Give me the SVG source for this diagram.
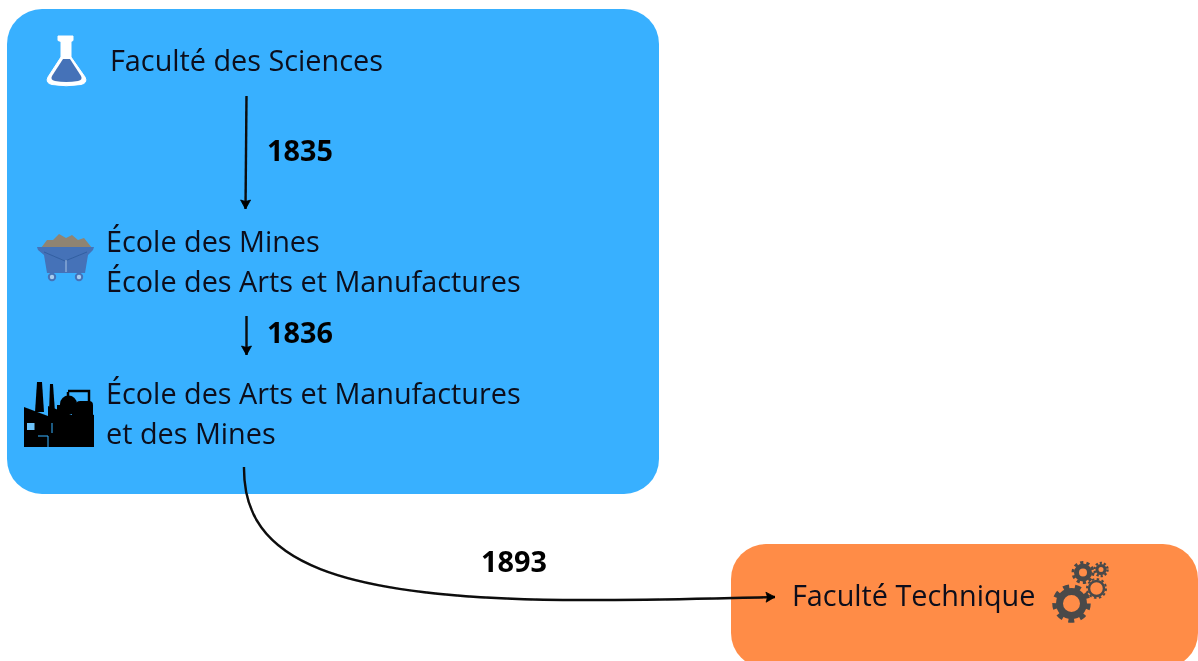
<svg xmlns="http://www.w3.org/2000/svg" width="1198" height="661" viewBox="0 0 1198 661">
<style>
text{font-family:"Open Sans","Noto Sans","Liberation Sans",sans-serif;font-size:28.8px;fill:#0a0f1a}
.y{font-weight:700;font-size:28.8px;fill:#050505}
.c{fill:none;stroke:#0a0a0a;stroke-width:2.4}
.g{fill:none;stroke:#4a4a4a}
.f{fill:#050505}
.w{fill:none;stroke:#38b0ff;stroke-width:1}
</style>
<defs>
<marker id="a" markerUnits="userSpaceOnUse" markerWidth="14" markerHeight="14" refX="10" refY="6" orient="auto"><path d="M1 1L10 6L1 11L2.500 6Z" fill="#000" stroke="#000" stroke-width="0.800" stroke-linejoin="round"/></marker>
<filter id="b" x="-5%" y="-5%" width="110%" height="110%"><feGaussianBlur stdDeviation="0.5"/></filter>
</defs>
<rect width="1198" height="661" fill="#fff"/>
<g filter="url(#b)">
<g id="box-paris"><rect x="7" y="9" width="652" height="485" rx="35" fill="#38b0ff"/></g>
<g id="box-technique"><rect x="731" y="544" width="467" height="124" rx="35" fill="#ff8c47"/></g>
<g id="connectors">
<path class="c" d="M246.500 96L245.500 209" marker-end="url(#a)"/>
<path class="c" d="M246.500 316L246.500 355" marker-end="url(#a)"/>
<path class="c" d="M244 467C243 560 330 602 600 600C680 600 725 598 775 597" marker-end="url(#a)"/>
</g>
<g id="node-sciences">
<path d="M58 36H73V40.500L71 41.500V57L85 77Q88 83 81 84.500Q66 87 52 84.500Q45 83 48 77L61 57V41.500L58 40.500Z" fill="#fff" stroke="#fff" stroke-width="1"/>
<path d="M63 59H70L81 76Q83 80 78 81Q66 83 55 81Q50 80 52 76Z" fill="#4472b8"/>
<text x="110" y="71">Faculté des Sciences</text>
</g>
<text class="y" x="267" y="161">1835</text>
<g id="node-mines">
<path d="M41 248L47 240L53 240L59 234L66 238L72 235L78 240L84 238L92 248Z" fill="#8f8473"/>
<path d="M37 247H94L93 250L88 255L85 273H47L44 255L38 250Z" fill="#4472b8"/>
<path d="M44 252L65 261L87 252" fill="none" stroke="#2f5a9c" stroke-width="0.800"/>
<path d="M66 260V272" fill="none" stroke="#a9c4e6" stroke-width="1"/>
<circle cx="52" cy="277" r="3.200" fill="#a9cdee" stroke="#4472b8" stroke-width="2"/>
<circle cx="79" cy="277" r="3.200" fill="#a9cdee" stroke="#4472b8" stroke-width="2"/>
<text x="106" y="252">École des Mines</text>
<text x="106" y="292">École des Arts et Manufactures</text>
</g>
<text class="y" x="267" y="343">1836</text>
<g id="node-centrale">
<path class="f" d="M37 382H42L44 412H35Z"/>
<path class="f" d="M50 384H53L55 412H49Z"/>
<path d="M68 391H89V404" fill="none" stroke="#050505" stroke-width="2.500"/>
<path d="M68 392V404H90" fill="none" stroke="#050505" stroke-width="2.500"/>
<path class="f" d="M60 414V404A8.500 8.500 0 0 1 77 404V414Z"/>
<rect class="f" x="76" y="401" width="17" height="18" rx="4"/>
<rect class="f" x="57" y="405" width="5" height="10"/>
<path class="f" d="M24 407L48 416V406L72 415V407L94 415V447H24Z"/>
<rect x="27" y="423" width="7.500" height="7" fill="#6cc3fa"/>
<path class="w" d="M38 436H48V447M52 423V433"/>
<text x="106" y="404">École des Arts et Manufactures</text>
<text x="106" y="444">et des Mines</text>
</g>
<text class="y" x="481" y="572">1893</text>
<g id="node-technique">
<text x="792" y="606">Faculté Technique</text>
<circle class="g" cx="1071.500" cy="603.500" r="12" stroke-width="7"/>
<circle class="g" cx="1071.500" cy="603.500" r="17" stroke-width="4.500" stroke-dasharray="6 5.870"/>
<circle class="g" cx="1083" cy="572.500" r="6.500" stroke-width="5"/>
<circle class="g" cx="1083" cy="572.500" r="10" stroke-width="3" stroke-dasharray="3.200 3.080"/>
<circle class="g" cx="1101" cy="569.500" r="4" stroke-width="3"/>
<circle class="g" cx="1101" cy="569.500" r="6.500" stroke-width="2.500" stroke-dasharray="2.200 1.880"/>
<circle class="g" cx="1096.500" cy="588.500" r="7.500" stroke-width="2.500"/>
<circle class="g" cx="1096.500" cy="588.500" r="9.500" stroke-width="2" stroke-dasharray="2.500 2.470"/>
</g>
</g>
</svg>
